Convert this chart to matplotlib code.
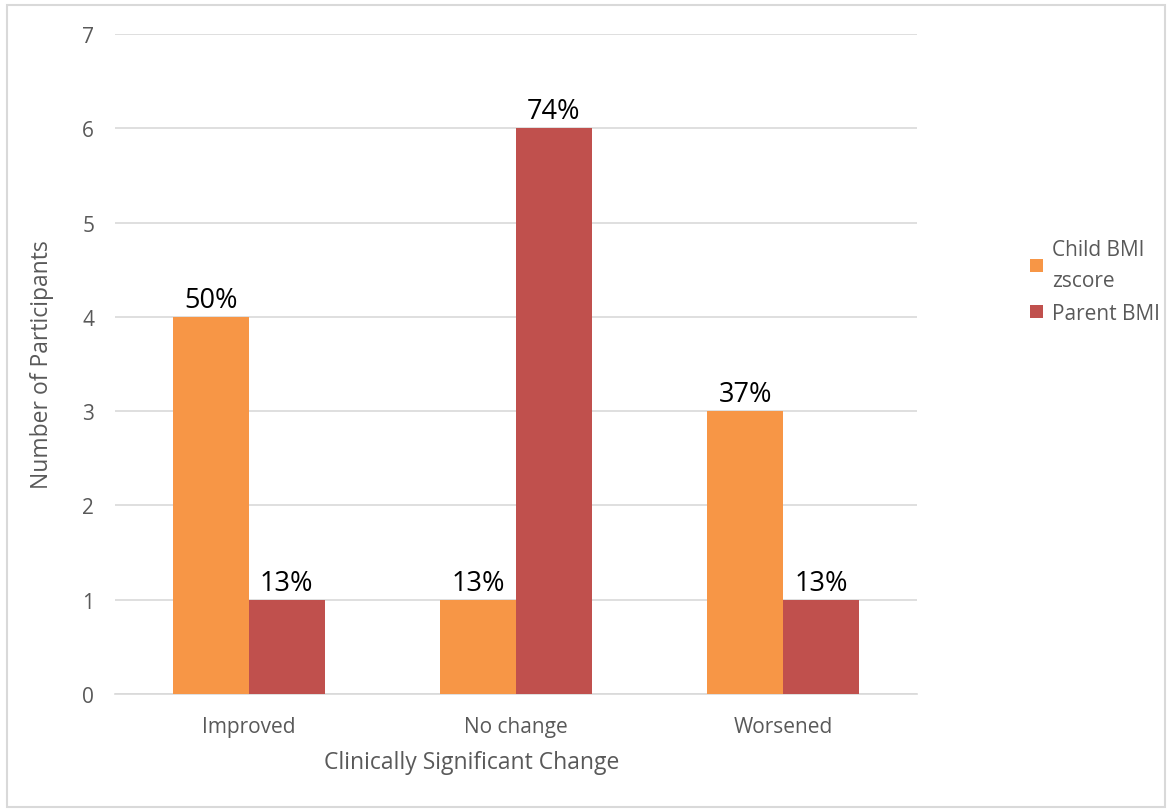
import numpy as np
import matplotlib
matplotlib.use('Agg')
import matplotlib.pyplot as plt
from matplotlib.patches import Rectangle

categories = ['Improved', 'No change', 'Worsened']
child_bmi = [4, 1, 3]
parent_bmi = [1, 6, 1]
child_labels = ['50%', '13%', '37%']
parent_labels = ['13%', '74%', '13%']

plt.rcParams['font.family'] = ['Open Sans', 'DejaVu Sans']

fig = plt.figure(figsize=(11.7, 8.12), dpi=100)
ax = fig.add_axes([115 / 1170, 117 / 812, 802 / 1170, 660 / 812])

x = np.arange(len(categories))
w = 0.284
b1 = ax.bar(x - w / 2, child_bmi, w, color='#F79646', label='Child BMI\nzscore', zorder=3)
b2 = ax.bar(x + w / 2, parent_bmi, w, color='#C0504D', label='Parent BMI', zorder=3)

for bars, labs in [(b1, child_labels), (b2, parent_labels)]:
    for bar, lab in zip(bars, labs):
        ax.text(bar.get_x() + bar.get_width() / 2, bar.get_height() + 0.03, lab,
                ha='center', va='bottom', fontsize=19.5, color='black')

ax.set_xlim(-0.5, 2.5)
ax.set_ylim(0, 7)
ax.set_yticks(range(8))
ax.set_xticks(x)
ax.set_xticklabels(categories)
ax.grid(axis='y', color='#D9D9D9', linewidth=1.2, zorder=0)
for s in ['top', 'right', 'left']:
    ax.spines[s].set_visible(False)
ax.spines['bottom'].set_color('#D9D9D9')
ax.spines['bottom'].set_linewidth(1.2)
ax.tick_params(length=0, labelsize=15, colors='#595959')
ax.tick_params(axis='x', pad=16)
ax.tick_params(axis='y', pad=15)

ax.set_xlabel('Clinically Significant Change', fontsize=16.5, color='#595959', labelpad=6)
ax.xaxis.set_label_coords(0.445, -0.085)
ax.set_ylabel('Number of Participants', fontsize=16.5, color='#595959', labelpad=20)

leg = ax.legend(loc='center left', bbox_to_anchor=(1.118, 0.625), frameon=False,
                fontsize=15, handlelength=0.6, handleheight=0.6,
                handletextpad=0.45, labelspacing=0.6)
for t in leg.get_texts():
    t.set_color('#595959')
    t.set_linespacing(1.6)

fig.patches.append(Rectangle((7 / 1170, 0.005), 1158 / 1170, 1 - 0.005 - 6 / 812,
                             transform=fig.transFigure, fill=False,
                             edgecolor='#D9D9D9', linewidth=1.5))

fig.savefig('out.png', dpi=100)
